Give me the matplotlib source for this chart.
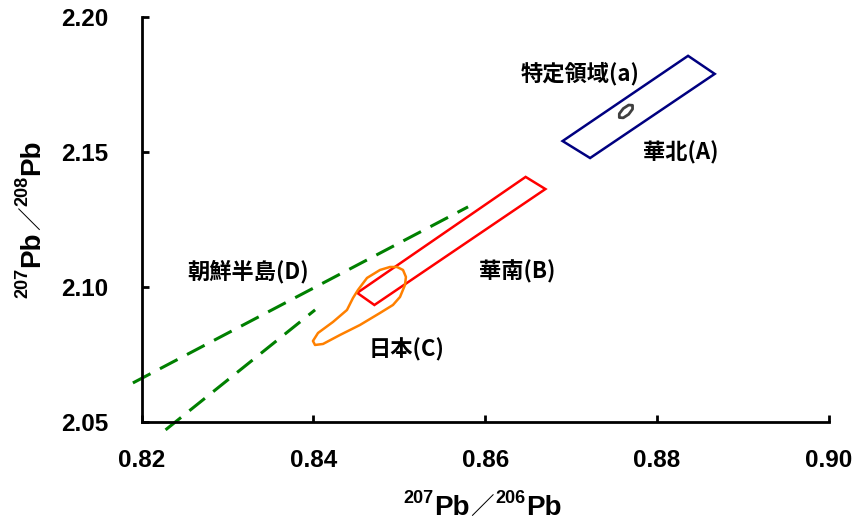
import matplotlib
matplotlib.use("Agg")
import matplotlib.pyplot as plt
from matplotlib.transforms import IdentityTransform

# ---- lead isotope ratio fields (207Pb/206Pb, 207Pb/208Pb) ----
north_x = [0.8690, 0.8836, 0.8867, 0.8722]          # 華北(A)
north_y = [2.1540, 2.1856, 2.1789, 2.1477]

south_x = [0.8451, 0.8647, 0.8670, 0.8471]          # 華南(B)
south_y = [2.0977, 2.1407, 2.1362, 2.0932]

japan_x = [0.84973, 0.85043, 0.85077, 0.85066, 0.85008, 0.84926, 0.84775,
           0.84542, 0.84310, 0.84112, 0.84019, 0.83995, 0.84054, 0.84228,
           0.84391, 0.84461, 0.84519, 0.84624, 0.84775, 0.84891]   # 日本(C)
japan_y = [2.1073, 2.10619, 2.10360, 2.10063, 2.09618, 2.09321, 2.09024,
           2.08579, 2.08209, 2.07875, 2.07838, 2.07986, 2.08283, 2.08691,
           2.09136, 2.09581, 2.09878, 2.10323, 2.10619, 2.1073]

korea_upper_x = [0.8190, 0.8580]                    # 朝鮮半島(D) upper line
korea_upper_y = [2.0643, 2.1296]
korea_lower_x = [0.8228, 0.8402]                    # 朝鮮半島(D) lower line
korea_lower_y = [2.0469, 2.0914]

region_a_x = [0.87714, 0.87714, 0.87669, 0.87606, 0.87560, 0.87560,
              0.87606, 0.87669]                     # 特定領域(a)
region_a_y = [2.16725, 2.16584, 2.16391, 2.16261, 2.16272, 2.16413,
              2.16606, 2.16736]

x_ticks = [0.82, 0.84, 0.86, 0.88, 0.90]
x_tick_labels = ["0.82", "0.84", "0.86", "0.88", "0.90"]
y_ticks = [2.05, 2.10, 2.15, 2.20]
y_tick_labels = ["2.05", "2.10", "2.15", "2.20"]

labels = ["特定領域(a)", "華北(A)", "華南(B)", "朝鮮半島(D)", "日本(C)"]

# ---- figure ----
W, H = 857, 522
fig = plt.figure(figsize=(W / 100, H / 100), dpi=100)
ax = fig.add_axes([141.5 / W, 1 - 421.5 / H, (829 - 141.5) / W, (421.5 - 17) / H])

ax.set_xlim(0.82, 0.90)
ax.set_ylim(2.05, 2.20)

for side in ("top", "right"):
    ax.spines[side].set_visible(False)
for side in ("left", "bottom"):
    ax.spines[side].set_linewidth(2.0)
    ax.spines[side].set_capstyle("projecting")

ax.set_xticks(x_ticks)
ax.set_xticklabels(x_tick_labels)
ax.set_yticks(y_ticks)
ax.set_yticklabels(y_tick_labels)
ax.tick_params(direction="in", length=5, width=2.0, labelsize=17.5)
ax.tick_params(axis="x", pad=20)
ax.tick_params(axis="y", pad=24)
for lab in ax.get_xticklabels() + ax.get_yticklabels():
    lab.set_fontfamily("Liberation Sans")
    lab.set_fontweight("bold")

# fields
ax.fill(north_x, north_y, fill=False, edgecolor="#000080", lw=1.8, joinstyle="miter")
ax.fill(south_x, south_y, fill=False, edgecolor="#ff0000", lw=1.8, joinstyle="miter")
ax.fill(japan_x, japan_y, fill=False, edgecolor="#ff8000", lw=1.8, joinstyle="round")
ax.fill(region_a_x, region_a_y, fill=False, edgecolor="#404040", lw=2.0, joinstyle="round")

green = "#008000"
ax.plot(korea_upper_x, korea_upper_y, color=green, lw=2.2, dashes=(6.5, 3.5), clip_on=False)
ax.plot(korea_lower_x, korea_lower_y, color=green, lw=2.2, dashes=(6.5, 3.5), clip_on=False)

# field names
label_pos = [(0.8710, 2.1789), (0.8828, 2.1496), (0.8637, 2.1055),
             (0.8324, 2.1055), (0.8509, 2.0765)]
for txt, (lx, ly) in zip(labels, label_pos):
    ax.text(lx, ly, txt, ha="center", va="center", fontsize=16,
            family=["Noto Sans CJK JP", "DejaVu Sans"], weight="bold")

# axis titles built from pieces (superscript mass numbers)
renderer = fig.canvas.get_renderer()
ident = IdentityTransform()
big, small = 20, 13
latin = "Liberation Sans"
cjk = "Noto Sans CJK JP"


def pieces_for(a, b):
    return [(a, small, latin, "bold", 12), ("Pb", big, latin, "bold", 0),
            ("／", 17, cjk, "normal", 0), (b, small, latin, "bold", 12),
            ("Pb", big, latin, "bold", 0)]


def rich_label(pieces, x, y, vertical=False):
    pos = y if vertical else x
    for s, size, fam, wt, rise in pieces:
        if vertical:
            t = fig.text(x - rise, pos, s, transform=ident, rotation=90,
                         rotation_mode="anchor", ha="left", va="baseline",
                         fontsize=size, family=fam, weight=wt)
            pos += t.get_window_extent(renderer).height + 1
        else:
            t = fig.text(pos, y + rise, s, transform=ident, ha="left",
                         va="baseline", fontsize=size, family=fam, weight=wt)
            pos += t.get_window_extent(renderer).width + 1


rich_label(pieces_for("207", "206"), 403, H - 515)
rich_label(pieces_for("207", "208"), 39, H - 298, vertical=True)

fig.savefig("out.png", dpi=100)
